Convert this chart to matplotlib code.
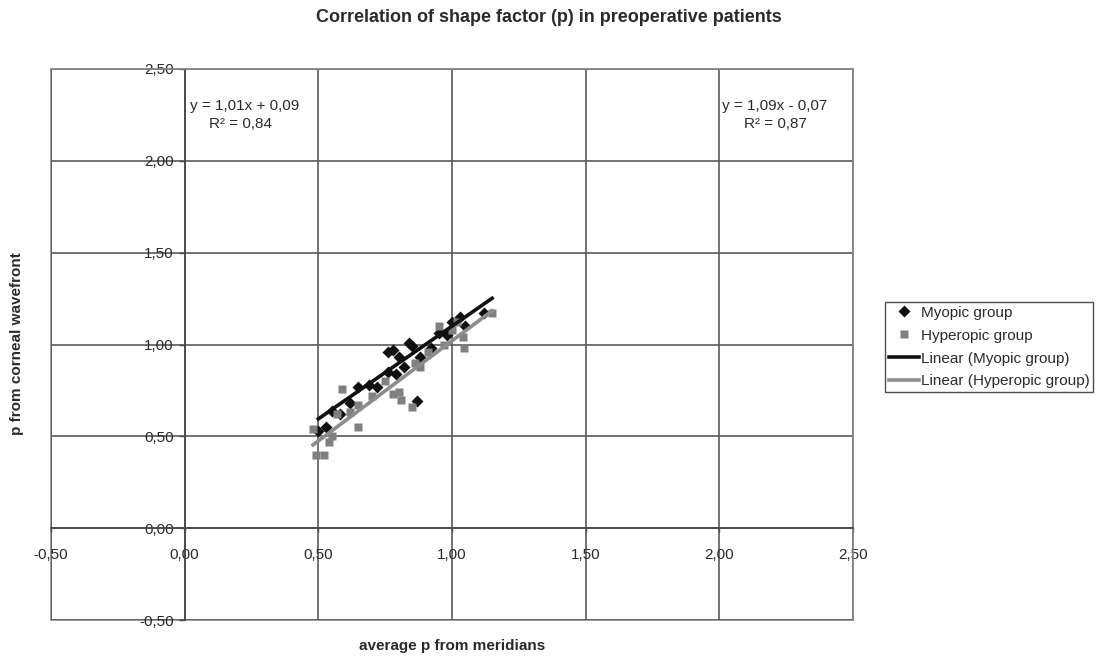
#!/bin/env python3
'''Correlation of shape factor (p) in preoperative patients.'''

import matplotlib
matplotlib.use("Agg")
import matplotlib.pyplot as plt
from matplotlib.patches import Rectangle
import numpy as np

plt.rcParams["font.family"] = ["Liberation Sans", "DejaVu Sans"]

# Myopic group (black diamonds)
myo_x = [0.50, 0.53, 0.55, 0.58, 0.62, 0.65, 0.69, 0.72, 0.76, 0.76, 0.78, 0.80,
         0.79, 0.82, 0.84, 0.85, 0.87, 0.88, 0.92, 0.95, 0.98, 1.00, 1.03, 1.05, 1.12]
myo_y = [0.53, 0.55, 0.64, 0.62, 0.68, 0.77, 0.78, 0.77, 0.85, 0.96, 0.97, 0.93,
         0.84, 0.88, 1.01, 0.99, 0.69, 0.93, 0.98, 1.06, 1.05, 1.12, 1.15, 1.10, 1.17]

# Hyperopic group (grey squares)
hyp_x = [0.48, 0.49, 0.52, 0.54, 0.55, 0.57, 0.59, 0.62, 0.65, 0.65, 0.70, 0.75, 0.78,
         0.80, 0.81, 0.85, 0.86, 0.88, 0.91, 0.95, 0.97, 1.00, 1.02, 1.04, 1.045, 1.15]
hyp_y = [0.54, 0.40, 0.40, 0.47, 0.50, 0.62, 0.76, 0.63, 0.55, 0.67, 0.72, 0.80, 0.73,
         0.74, 0.70, 0.66, 0.90, 0.88, 0.96, 1.10, 1.00, 1.08, 1.12, 1.04, 0.98, 1.17]

# trendline coefficients (slope, intercept) as printed on the chart
myo_fit = [1.01, 0.09]
hyp_fit = [1.09, -0.07]
myo_r2 = "0,84"
hyp_r2 = "0,87"

ticks = [-0.5, 0.0, 0.5, 1.0, 1.5, 2.0, 2.5]
tick_labels = ["-0,50", "0,00", "0,50", "1,00", "1,50", "2,00", "2,50"]

W, H = 1098, 659
fig = plt.figure(figsize=(W / 100, H / 100), dpi=100)
ax = fig.add_axes([51 / W, 39 / H, 802 / W, 551 / H])
ax.set_xlim(-0.5, 2.5)
ax.set_ylim(-0.5, 2.5)

# axes crossing at zero, grey outer frame
for s in ["top", "right"]:
    ax.spines[s].set_color("#8a8a8a")
    ax.spines[s].set_linewidth(1.2)
ax.spines["left"].set_position(("data", 0))
ax.spines["bottom"].set_position(("data", 0))
for s in ["left", "bottom"]:
    ax.spines[s].set_color("#4a4a4a")
    ax.spines[s].set_linewidth(1.3)
ax.add_patch(Rectangle((0, 0), 1, 1, transform=ax.transAxes, fill=False,
                       edgecolor="#8a8a8a", lw=1.2, zorder=0.5, clip_on=False))

ax.set_xticks(ticks)
ax.set_xticklabels(tick_labels)
ax.set_yticks(ticks)
ax.set_yticklabels(tick_labels)
ax.tick_params(axis="x", direction="out", length=3, width=1, color="#4a4a4a",
               pad=11, labelsize=11, labelcolor="#2a2a2a")
ax.tick_params(axis="y", direction="out", length=4, width=1, color="#4a4a4a",
               pad=4, labelsize=11, labelcolor="#2a2a2a")
ax.grid(True, color="#5a5a5a", lw=1.2)
ax.set_axisbelow(True)

ax.plot(myo_x, myo_y, "D", color="#111111", ms=6, mec="none", label="Myopic group", zorder=3)
ax.plot(hyp_x, hyp_y, "s", color="#808080", ms=6, mec="none", label="Hyperopic group", zorder=3)

mx = np.array([min(myo_x), max(myo_x) + 0.03])
hx = np.array([min(hyp_x), max(hyp_x)])
ax.plot(mx, myo_fit[0] * mx + myo_fit[1], color="#111111", lw=2.6,
        label="Linear (Myopic group)", zorder=4)
ax.plot(hx, hyp_fit[0] * hx + hyp_fit[1], color="#8c8c8c", lw=2.6,
        label="Linear (Hyperopic group)", zorder=4)

ax.text(0.02, 2.30, "y = 1,01x + 0,09", fontsize=11, ha="left", va="center", color="#2a2a2a")
ax.text(0.21, 2.20, "R² = " + myo_r2, fontsize=11, ha="center", va="center", color="#2a2a2a")
ax.text(2.01, 2.30, "y = 1,09x - 0,07", fontsize=11, ha="left", va="center", color="#2a2a2a")
ax.text(2.21, 2.20, "R² = " + hyp_r2, fontsize=11, ha="center", va="center", color="#2a2a2a")

fig.text(0.5, 1 - 17 / H, "Correlation of shape factor (p) in preoperative patients",
         fontsize=13, fontweight="bold", ha="center", va="center", color="#2a2a2a")
fig.text(452 / W, 1 - 646 / H, "average p from meridians", fontsize=11,
         fontweight="bold", ha="center", va="center", color="#2a2a2a")
fig.text(17 / W, 1 - 344 / H, "p from corneal wavefront", fontsize=11, rotation=90,
         fontweight="bold", ha="center", va="center", color="#2a2a2a")

leg = fig.legend(loc="upper left", bbox_to_anchor=(885 / W, 1 - 302 / H),
                 fontsize=11, frameon=True, fancybox=False, edgecolor="#222222",
                 handlelength=2.0, handletextpad=0.1, borderpad=0.25,
                 labelspacing=0.58, borderaxespad=0)
leg.get_frame().set_linewidth(1.0)
for t in leg.get_texts():
    t.set_color("#2a2a2a")

plt.savefig("out.png", dpi=100)
